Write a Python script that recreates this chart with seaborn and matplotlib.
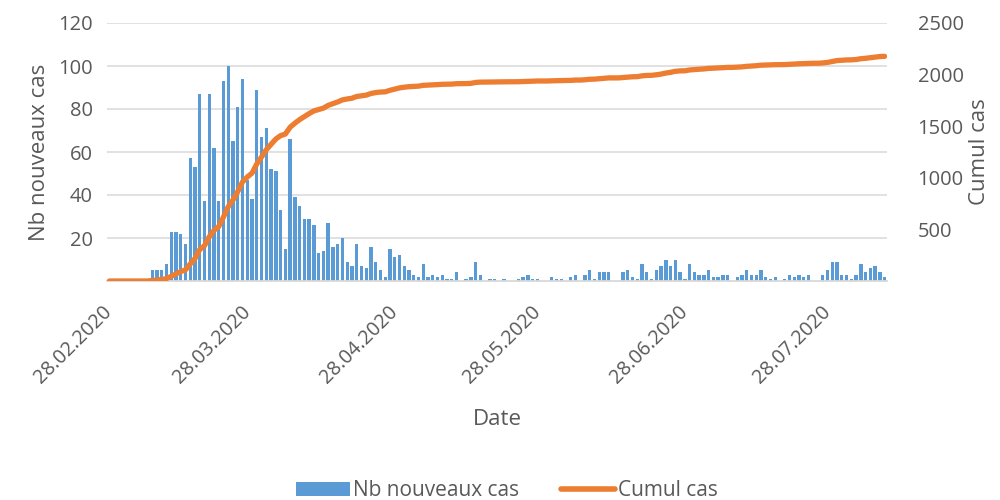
import numpy as np
import pandas as pd
import matplotlib
matplotlib.use('Agg')
import matplotlib.pyplot as plt
from matplotlib.patches import Patch
from matplotlib.lines import Line2D
import seaborn as sns

# daily new cases, one value per day from 28.02.2020 to 09.08.2020
cas_mars = [0, 0, 0, 0, 0, 0, 0, 0, 0, 5, 5, 5, 8, 23, 23, 22, 17, 57, 53, 87,
            37, 87, 62, 37, 93, 100, 65, 81, 94, 47, 38, 89]
cas_avril = [67, 71, 52, 51, 33, 15, 66, 39, 35, 29, 29, 26, 13, 14, 27, 16, 17, 20,
             9, 7, 17, 7, 6, 16, 9, 5, 2, 15, 11, 12, 7, 5, 3, 2, 8, 2, 3, 2]
cas_mai_juin = [3, 1, 1, 4, 0, 1, 2, 9, 3, 0, 1, 1, 0, 1, 0, 0, 1, 2, 3, 1, 1, 0, 0,
                2, 1, 1, 0, 2, 3, 0, 3, 5, 1, 4, 4, 4, 0, 0, 4, 5, 2, 1, 8, 4, 1, 5]
cas_juil_aout = [7, 10, 7, 10, 4, 1, 8, 4, 3, 3, 5, 2, 2, 3, 3, 0, 2, 3, 5, 3, 3, 5,
                 2, 1, 2, 0, 1, 3, 2, 3, 2, 3, 0, 0, 3, 5, 9, 9, 3, 3, 1, 3, 8, 4,
                 6, 7, 4, 2]

nouveaux = np.array(cas_mars + cas_avril + cas_mai_juin + cas_juil_aout)
dates = pd.date_range('2020-02-28', periods=len(nouveaux), freq='D')
cumul = np.cumsum(nouveaux)

df = pd.DataFrame({'Date': dates.strftime('%d.%m.%Y'), 'Nb nouveaux cas': nouveaux,
                   'Cumul cas': cumul, 'jour': np.arange(len(nouveaux))})

sns.set_style('white')
plt.rcParams['font.family'] = ['Open Sans', 'DejaVu Sans']
gris = '#595959'
bleu = '#5B9BD5'
orange = '#ED7D31'

fig, ax = plt.subplots(figsize=(10, 5), dpi=100)
fig.subplots_adjust(left=0.107, right=0.887, top=0.954, bottom=0.438)

sns.barplot(data=df, x='Date', y='Nb nouveaux cas', color=bleu, width=0.7,
            saturation=1, linewidth=0, edgecolor='none', ax=ax, zorder=2)
ax.set_ylim(0, 120)
ax.set_xlim(-0.5, len(nouveaux) - 0.5)
ax.set_yticks([20, 40, 60, 80, 100, 120])
ax.yaxis.grid(True, color='#D9D9D9', linewidth=1.1, zorder=0)
ax.set_axisbelow(True)

ax2 = ax.twinx()
sns.lineplot(data=df, x='jour', y='Cumul cas', color=orange, linewidth=3.8, ax=ax2,
             zorder=3)
ax2.set_ylim(0, 2500)
ax2.set_yticks([500, 1000, 1500, 2000, 2500])
ax2.set_xlim(-0.5, len(nouveaux) - 0.5)

# x ticks on the 28th of each month
pos = [i for i, d in enumerate(dates) if d.day == 28]
ax.set_xticks(pos)
ax.set_xticklabels([df['Date'][i] for i in pos], rotation=45, ha='right', va='center',
                   rotation_mode='anchor', fontsize=14.2, color=gris)
ax.tick_params(axis='x', length=0, pad=20)
ax.tick_params(axis='y', length=0, labelsize=14.5, labelcolor=gris, pad=10)
ax2.tick_params(axis='y', length=0, labelsize=14.5, labelcolor=gris, pad=22)

for a in (ax, ax2):
    for s in ['top', 'left', 'right']:
        a.spines[s].set_visible(False)
ax.spines['bottom'].set_color('#D9D9D9')
ax.spines['bottom'].set_linewidth(1.3)
ax2.spines['bottom'].set_visible(False)

ax.set_xlabel('Date', fontsize=16, color=gris, labelpad=16)
ax.set_ylabel('Nb nouveaux cas', fontsize=16, color=gris, labelpad=6)
ax2.set_ylabel('Cumul cas', fontsize=16, color=gris, labelpad=4)

handles = [Patch(facecolor=bleu, edgecolor='none'),
           Line2D([0], [0], color=orange, linewidth=4)]
fig.legend(handles, ['Nb nouveaux cas', 'Cumul cas'], loc='lower center',
           bbox_to_anchor=(0.507, -0.04), ncol=2, frameon=False, fontsize=15,
           handlelength=2.6, handletextpad=0.15, columnspacing=2.0,
           labelcolor=gris)

fig.savefig('out.png', dpi=100)
